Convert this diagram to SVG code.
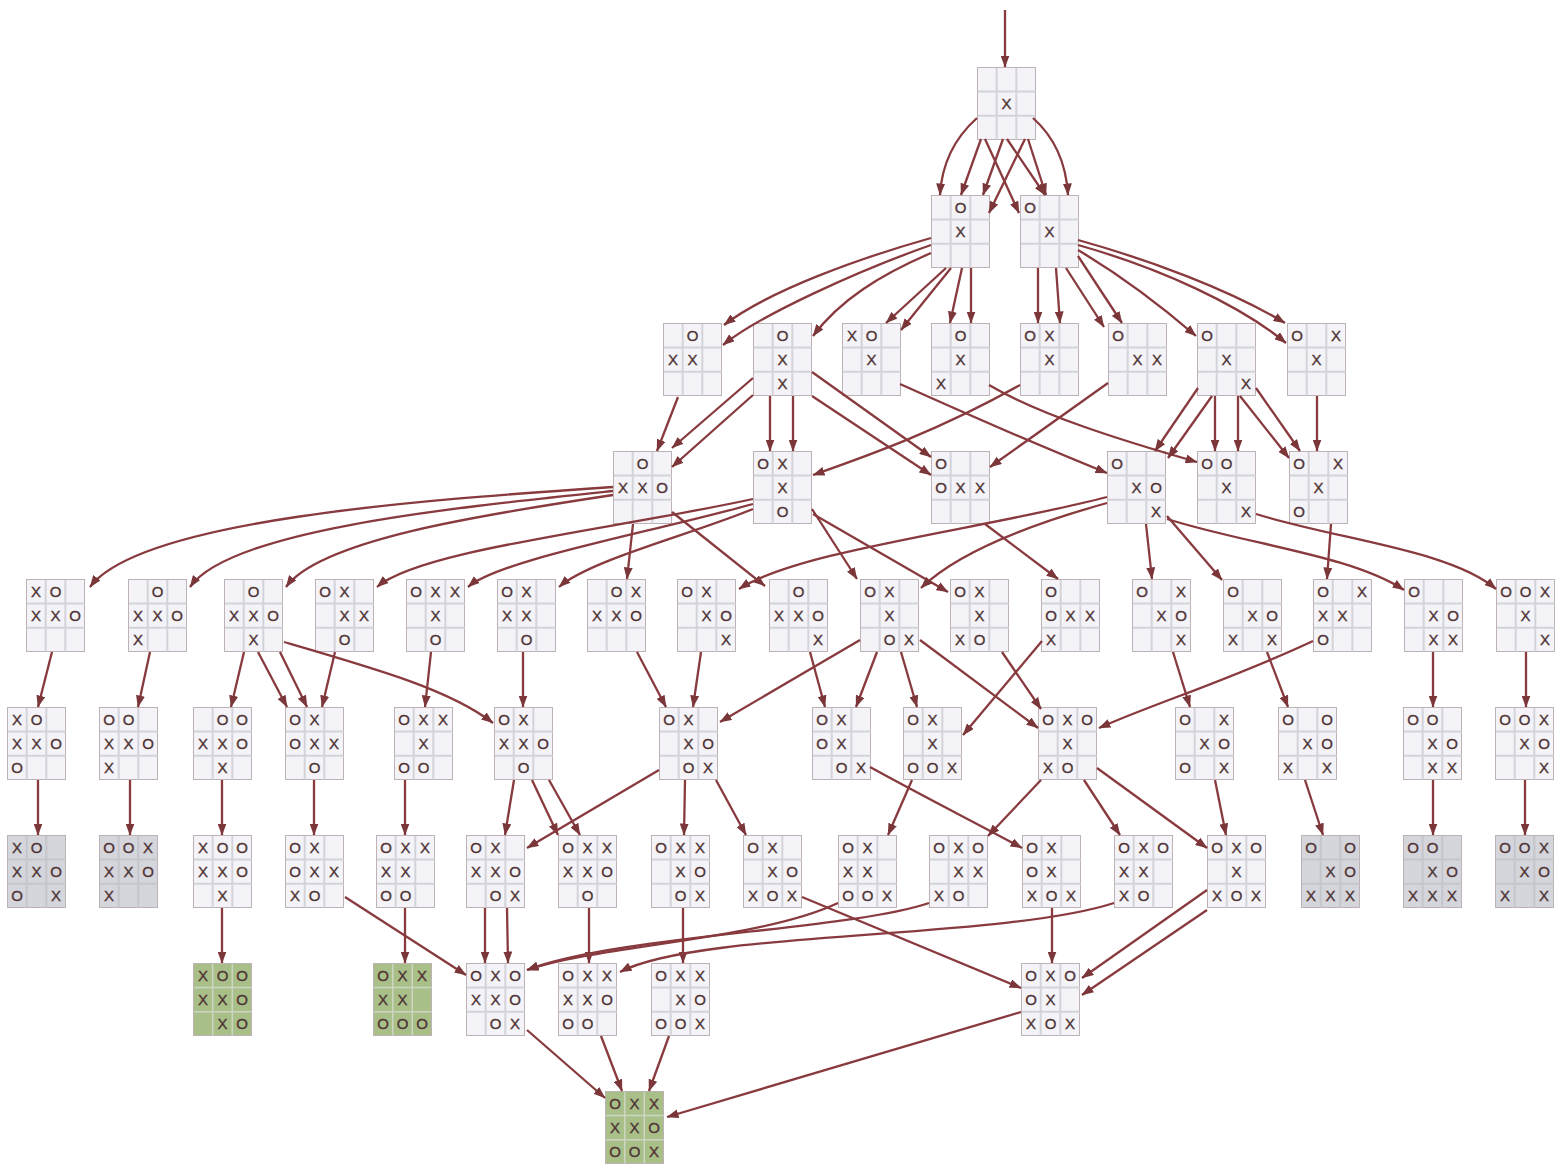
<svg xmlns="http://www.w3.org/2000/svg" xmlns:xlink="http://www.w3.org/1999/xlink" width="1563" height="1171" viewBox="0 0 1563 1171">
<style>
text{font-family:"Liberation Sans",Arial,sans-serif;font-size:15px;fill:#4f3335;stroke:#4f3335;stroke-width:0.35;text-anchor:middle;dominant-baseline:central}
.e path{fill:none;stroke:#883a3e;stroke-width:2.3;marker-end:url(#a)}
</style>
<defs>
<marker id="a" viewBox="0 0 12 9" refX="11.5" refY="4.5" markerWidth="12" markerHeight="9" markerUnits="userSpaceOnUse" orient="auto"><path d="M0,0L12,4.5L0,9z" fill="#7a3639"/></marker>
<g id="b"><rect x="0.5" y="0.5" width="58" height="72" fill="#f4f3f7" stroke="#bfb2b6"/><path d="M19.7,1V72.5M39.3,1V72.5M1,24.5H58.5M1,48.7H58.5" stroke="#d3d3da" stroke-width="2"/></g>
<g id="bg"><rect x="0.5" y="0.5" width="58" height="72" fill="#d4d6db" stroke="#bfb2b6"/><path d="M19.7,1V72.5M39.3,1V72.5M1,24.5H58.5M1,48.7H58.5" stroke="#c4c6cc" stroke-width="2"/></g>
<g id="bv"><rect x="0.5" y="0.5" width="58" height="72" fill="#a9bf88" stroke="#bfb2b6"/><path d="M19.7,1V72.5M39.3,1V72.5M1,24.5H58.5M1,48.7H58.5" stroke="#cdd6c2" stroke-width="1.5"/></g>
</defs>
<rect width="1563" height="1171" fill="#ffffff"/>
<g id="nodes">
<g id="n_root" transform="translate(977,67)"><use href="#b"/><text x="29.5" y="36.5">X</text></g>
<g id="n_L2" transform="translate(931,195)"><use href="#b"/><text x="29.5" y="12.5">O</text><text x="29.5" y="36.5">X</text></g>
<g id="n_R2" transform="translate(1020,195)"><use href="#b"/><text x="10" y="12.5">O</text><text x="29.5" y="36.5">X</text></g>

<g id="n_A" transform="translate(663,323)"><use href="#b"/><text x="29.5" y="12.5">O</text><text x="10" y="36.5">X</text><text x="29.5" y="36.5">X</text></g>
<g id="n_B" transform="translate(753,323)"><use href="#b"/><text x="29.5" y="12.5">O</text><text x="29.5" y="36.5">X</text><text x="29.5" y="60.5">X</text></g>
<g id="n_C" transform="translate(842,323)"><use href="#b"/><text x="10" y="12.5">X</text><text x="29.5" y="12.5">O</text><text x="29.5" y="36.5">X</text></g>
<g id="n_D" transform="translate(931,323)"><use href="#b"/><text x="29.5" y="12.5">O</text><text x="29.5" y="36.5">X</text><text x="10" y="60.5">X</text></g>
<g id="n_E" transform="translate(1020,323)"><use href="#b"/><text x="10" y="12.5">O</text><text x="29.5" y="12.5">X</text><text x="29.5" y="36.5">X</text></g>
<g id="n_F" transform="translate(1108,323)"><use href="#b"/><text x="10" y="12.5">O</text><text x="29.5" y="36.5">X</text><text x="49" y="36.5">X</text></g>
<g id="n_G" transform="translate(1197,323)"><use href="#b"/><text x="10" y="12.5">O</text><text x="29.5" y="36.5">X</text><text x="49" y="60.5">X</text></g>
<g id="n_H" transform="translate(1287,323)"><use href="#b"/><text x="10" y="12.5">O</text><text x="49" y="12.5">X</text><text x="29.5" y="36.5">X</text></g>

<g id="n_P" transform="translate(613,451)"><use href="#b"/><text x="29.5" y="12.5">O</text><text x="10" y="36.5">X</text><text x="29.5" y="36.5">X</text><text x="49" y="36.5">O</text></g>
<g id="n_Q" transform="translate(753,451)"><use href="#b"/><text x="10" y="12.5">O</text><text x="29.5" y="12.5">X</text><text x="29.5" y="36.5">X</text><text x="29.5" y="60.5">O</text></g>
<g id="n_R" transform="translate(931,451)"><use href="#b"/><text x="10" y="12.5">O</text><text x="10" y="36.5">O</text><text x="29.5" y="36.5">X</text><text x="49" y="36.5">X</text></g>
<g id="n_S" transform="translate(1107,451)"><use href="#b"/><text x="10" y="12.5">O</text><text x="29.5" y="36.5">X</text><text x="49" y="36.5">O</text><text x="49" y="60.5">X</text></g>
<g id="n_T" transform="translate(1197,451)"><use href="#b"/><text x="10" y="12.5">O</text><text x="29.5" y="12.5">O</text><text x="29.5" y="36.5">X</text><text x="49" y="60.5">X</text></g>
<g id="n_U" transform="translate(1289,451)"><use href="#b"/><text x="10" y="12.5">O</text><text x="49" y="12.5">X</text><text x="29.5" y="36.5">X</text><text x="10" y="60.5">O</text></g>

<g id="n5_1" transform="translate(26,579)"><use href="#b"/><text x="10" y="12.5">X</text><text x="29.5" y="12.5">O</text><text x="10" y="36.5">X</text><text x="29.5" y="36.5">X</text><text x="49" y="36.5">O</text></g>
<g id="n5_2" transform="translate(128,579)"><use href="#b"/><text x="29.5" y="12.5">O</text><text x="10" y="36.5">X</text><text x="29.5" y="36.5">X</text><text x="49" y="36.5">O</text><text x="10" y="60.5">X</text></g>
<g id="n5_3" transform="translate(224,579)"><use href="#b"/><text x="29.5" y="12.5">O</text><text x="10" y="36.5">X</text><text x="29.5" y="36.5">X</text><text x="49" y="36.5">O</text><text x="29.5" y="60.5">X</text></g>
<g id="n5_4" transform="translate(315,579)"><use href="#b"/><text x="10" y="12.5">O</text><text x="29.5" y="12.5">X</text><text x="29.5" y="36.5">X</text><text x="49" y="36.5">X</text><text x="29.5" y="60.5">O</text></g>
<g id="n5_5" transform="translate(406,579)"><use href="#b"/><text x="10" y="12.5">O</text><text x="29.5" y="12.5">X</text><text x="49" y="12.5">X</text><text x="29.5" y="36.5">X</text><text x="29.5" y="60.5">O</text></g>
<g id="n5_6" transform="translate(497,579)"><use href="#b"/><text x="10" y="12.5">O</text><text x="29.5" y="12.5">X</text><text x="10" y="36.5">X</text><text x="29.5" y="36.5">X</text><text x="29.5" y="60.5">O</text></g>
<g id="n5_7" transform="translate(587,579)"><use href="#b"/><text x="29.5" y="12.5">O</text><text x="49" y="12.5">X</text><text x="10" y="36.5">X</text><text x="29.5" y="36.5">X</text><text x="49" y="36.5">O</text></g>
<g id="n5_8" transform="translate(677,579)"><use href="#b"/><text x="10" y="12.5">O</text><text x="29.5" y="12.5">X</text><text x="29.5" y="36.5">X</text><text x="49" y="36.5">O</text><text x="49" y="60.5">X</text></g>
<g id="n5_9" transform="translate(769,579)"><use href="#b"/><text x="29.5" y="12.5">O</text><text x="10" y="36.5">X</text><text x="29.5" y="36.5">X</text><text x="49" y="36.5">O</text><text x="49" y="60.5">X</text></g>
<g id="n5_10" transform="translate(860,579)"><use href="#b"/><text x="10" y="12.5">O</text><text x="29.5" y="12.5">X</text><text x="29.5" y="36.5">X</text><text x="29.5" y="60.5">O</text><text x="49" y="60.5">X</text></g>
<g id="n5_11" transform="translate(950,579)"><use href="#b"/><text x="10" y="12.5">O</text><text x="29.5" y="12.5">X</text><text x="29.5" y="36.5">X</text><text x="10" y="60.5">X</text><text x="29.5" y="60.5">O</text></g>
<g id="n5_12" transform="translate(1041,579)"><use href="#b"/><text x="10" y="12.5">O</text><text x="10" y="36.5">O</text><text x="29.5" y="36.5">X</text><text x="49" y="36.5">X</text><text x="10" y="60.5">X</text></g>
<g id="n5_13" transform="translate(1132,579)"><use href="#b"/><text x="10" y="12.5">O</text><text x="49" y="12.5">X</text><text x="29.5" y="36.5">X</text><text x="49" y="36.5">O</text><text x="49" y="60.5">X</text></g>
<g id="n5_14" transform="translate(1223,579)"><use href="#b"/><text x="10" y="12.5">O</text><text x="29.5" y="36.5">X</text><text x="49" y="36.5">O</text><text x="10" y="60.5">X</text><text x="49" y="60.5">X</text></g>
<g id="n5_15" transform="translate(1313,579)"><use href="#b"/><text x="10" y="12.5">O</text><text x="49" y="12.5">X</text><text x="10" y="36.5">X</text><text x="29.5" y="36.5">X</text><text x="10" y="60.5">O</text></g>
<g id="n5_16" transform="translate(1404,579)"><use href="#b"/><text x="10" y="12.5">O</text><text x="29.5" y="36.5">X</text><text x="49" y="36.5">O</text><text x="29.5" y="60.5">X</text><text x="49" y="60.5">X</text></g>
<g id="n5_17" transform="translate(1496,579)"><use href="#b"/><text x="10" y="12.5">O</text><text x="29.5" y="12.5">O</text><text x="49" y="12.5">X</text><text x="29.5" y="36.5">X</text><text x="49" y="60.5">X</text></g>

<g id="n6_a" transform="translate(7,707)"><use href="#b"/><text x="10" y="12.5">X</text><text x="29.5" y="12.5">O</text><text x="10" y="36.5">X</text><text x="29.5" y="36.5">X</text><text x="49" y="36.5">O</text><text x="10" y="60.5">O</text></g>
<g id="n6_b" transform="translate(99,707)"><use href="#b"/><text x="10" y="12.5">O</text><text x="29.5" y="12.5">O</text><text x="10" y="36.5">X</text><text x="29.5" y="36.5">X</text><text x="49" y="36.5">O</text><text x="10" y="60.5">X</text></g>
<g id="n6_c" transform="translate(193,707)"><use href="#b"/><text x="29.5" y="12.5">O</text><text x="49" y="12.5">O</text><text x="10" y="36.5">X</text><text x="29.5" y="36.5">X</text><text x="49" y="36.5">O</text><text x="29.5" y="60.5">X</text></g>
<g id="n6_d" transform="translate(285,707)"><use href="#b"/><text x="10" y="12.5">O</text><text x="29.5" y="12.5">X</text><text x="10" y="36.5">O</text><text x="29.5" y="36.5">X</text><text x="49" y="36.5">X</text><text x="29.5" y="60.5">O</text></g>
<g id="n6_e" transform="translate(394,707)"><use href="#b"/><text x="10" y="12.5">O</text><text x="29.5" y="12.5">X</text><text x="49" y="12.5">X</text><text x="29.5" y="36.5">X</text><text x="10" y="60.5">O</text><text x="29.5" y="60.5">O</text></g>
<g id="n6_f" transform="translate(494,707)"><use href="#b"/><text x="10" y="12.5">O</text><text x="29.5" y="12.5">X</text><text x="10" y="36.5">X</text><text x="29.5" y="36.5">X</text><text x="49" y="36.5">O</text><text x="29.5" y="60.5">O</text></g>
<g id="n6_g" transform="translate(659,707)"><use href="#b"/><text x="10" y="12.5">O</text><text x="29.5" y="12.5">X</text><text x="29.5" y="36.5">X</text><text x="49" y="36.5">O</text><text x="29.5" y="60.5">O</text><text x="49" y="60.5">X</text></g>
<g id="n6_h" transform="translate(812,707)"><use href="#b"/><text x="10" y="12.5">O</text><text x="29.5" y="12.5">X</text><text x="10" y="36.5">O</text><text x="29.5" y="36.5">X</text><text x="29.5" y="60.5">O</text><text x="49" y="60.5">X</text></g>
<g id="n6_i" transform="translate(903,707)"><use href="#b"/><text x="10" y="12.5">O</text><text x="29.5" y="12.5">X</text><text x="29.5" y="36.5">X</text><text x="10" y="60.5">O</text><text x="29.5" y="60.5">O</text><text x="49" y="60.5">X</text></g>
<g id="n6_j" transform="translate(1038,707)"><use href="#b"/><text x="10" y="12.5">O</text><text x="29.5" y="12.5">X</text><text x="49" y="12.5">O</text><text x="29.5" y="36.5">X</text><text x="10" y="60.5">X</text><text x="29.5" y="60.5">O</text></g>
<g id="n6_k" transform="translate(1175,707)"><use href="#b"/><text x="10" y="12.5">O</text><text x="49" y="12.5">X</text><text x="29.5" y="36.5">X</text><text x="49" y="36.5">O</text><text x="10" y="60.5">O</text><text x="49" y="60.5">X</text></g>
<g id="n6_l" transform="translate(1278,707)"><use href="#b"/><text x="10" y="12.5">O</text><text x="49" y="12.5">O</text><text x="29.5" y="36.5">X</text><text x="49" y="36.5">O</text><text x="10" y="60.5">X</text><text x="49" y="60.5">X</text></g>
<g id="n6_m" transform="translate(1403,707)"><use href="#b"/><text x="10" y="12.5">O</text><text x="29.5" y="12.5">O</text><text x="29.5" y="36.5">X</text><text x="49" y="36.5">O</text><text x="29.5" y="60.5">X</text><text x="49" y="60.5">X</text></g>
<g id="n6_n" transform="translate(1495,707)"><use href="#b"/><text x="10" y="12.5">O</text><text x="29.5" y="12.5">O</text><text x="49" y="12.5">X</text><text x="29.5" y="36.5">X</text><text x="49" y="36.5">O</text><text x="49" y="60.5">X</text></g>

<g id="n7_1" transform="translate(7,835)"><use href="#bg"/><text x="10" y="12.5">X</text><text x="29.5" y="12.5">O</text><text x="10" y="36.5">X</text><text x="29.5" y="36.5">X</text><text x="49" y="36.5">O</text><text x="10" y="60.5">O</text><text x="49" y="60.5">X</text></g>
<g id="n7_2" transform="translate(99,835)"><use href="#bg"/><text x="10" y="12.5">O</text><text x="29.5" y="12.5">O</text><text x="49" y="12.5">X</text><text x="10" y="36.5">X</text><text x="29.5" y="36.5">X</text><text x="49" y="36.5">O</text><text x="10" y="60.5">X</text></g>
<g id="n7_3" transform="translate(193,835)"><use href="#b"/><text x="10" y="12.5">X</text><text x="29.5" y="12.5">O</text><text x="49" y="12.5">O</text><text x="10" y="36.5">X</text><text x="29.5" y="36.5">X</text><text x="49" y="36.5">O</text><text x="29.5" y="60.5">X</text></g>
<g id="n7_4" transform="translate(285,835)"><use href="#b"/><text x="10" y="12.5">O</text><text x="29.5" y="12.5">X</text><text x="10" y="36.5">O</text><text x="29.5" y="36.5">X</text><text x="49" y="36.5">X</text><text x="10" y="60.5">X</text><text x="29.5" y="60.5">O</text></g>
<g id="n7_5" transform="translate(376,835)"><use href="#b"/><text x="10" y="12.5">O</text><text x="29.5" y="12.5">X</text><text x="49" y="12.5">X</text><text x="10" y="36.5">X</text><text x="29.5" y="36.5">X</text><text x="10" y="60.5">O</text><text x="29.5" y="60.5">O</text></g>
<g id="n7_6" transform="translate(466,835)"><use href="#b"/><text x="10" y="12.5">O</text><text x="29.5" y="12.5">X</text><text x="10" y="36.5">X</text><text x="29.5" y="36.5">X</text><text x="49" y="36.5">O</text><text x="29.5" y="60.5">O</text><text x="49" y="60.5">X</text></g>
<g id="n7_7" transform="translate(558,835)"><use href="#b"/><text x="10" y="12.5">O</text><text x="29.5" y="12.5">X</text><text x="49" y="12.5">X</text><text x="10" y="36.5">X</text><text x="29.5" y="36.5">X</text><text x="49" y="36.5">O</text><text x="29.5" y="60.5">O</text></g>
<g id="n7_8" transform="translate(651,835)"><use href="#b"/><text x="10" y="12.5">O</text><text x="29.5" y="12.5">X</text><text x="49" y="12.5">X</text><text x="29.5" y="36.5">X</text><text x="49" y="36.5">O</text><text x="29.5" y="60.5">O</text><text x="49" y="60.5">X</text></g>
<g id="n7_9" transform="translate(743,835)"><use href="#b"/><text x="10" y="12.5">O</text><text x="29.5" y="12.5">X</text><text x="29.5" y="36.5">X</text><text x="49" y="36.5">O</text><text x="10" y="60.5">X</text><text x="29.5" y="60.5">O</text><text x="49" y="60.5">X</text></g>
<g id="n7_10" transform="translate(838,835)"><use href="#b"/><text x="10" y="12.5">O</text><text x="29.5" y="12.5">X</text><text x="10" y="36.5">X</text><text x="29.5" y="36.5">X</text><text x="10" y="60.5">O</text><text x="29.5" y="60.5">O</text><text x="49" y="60.5">X</text></g>
<g id="n7_11" transform="translate(929,835)"><use href="#b"/><text x="10" y="12.5">O</text><text x="29.5" y="12.5">X</text><text x="49" y="12.5">O</text><text x="29.5" y="36.5">X</text><text x="49" y="36.5">X</text><text x="10" y="60.5">X</text><text x="29.5" y="60.5">O</text></g>
<g id="n7_12" transform="translate(1022,835)"><use href="#b"/><text x="10" y="12.5">O</text><text x="29.5" y="12.5">X</text><text x="10" y="36.5">O</text><text x="29.5" y="36.5">X</text><text x="10" y="60.5">X</text><text x="29.5" y="60.5">O</text><text x="49" y="60.5">X</text></g>
<g id="n7_13" transform="translate(1114,835)"><use href="#b"/><text x="10" y="12.5">O</text><text x="29.5" y="12.5">X</text><text x="49" y="12.5">O</text><text x="10" y="36.5">X</text><text x="29.5" y="36.5">X</text><text x="10" y="60.5">X</text><text x="29.5" y="60.5">O</text></g>
<g id="n7_14" transform="translate(1207,835)"><use href="#b"/><text x="10" y="12.5">O</text><text x="29.5" y="12.5">X</text><text x="49" y="12.5">O</text><text x="29.5" y="36.5">X</text><text x="10" y="60.5">X</text><text x="29.5" y="60.5">O</text><text x="49" y="60.5">X</text></g>
<g id="n7_15" transform="translate(1301,835)"><use href="#bg"/><text x="10" y="12.5">O</text><text x="49" y="12.5">O</text><text x="29.5" y="36.5">X</text><text x="49" y="36.5">O</text><text x="10" y="60.5">X</text><text x="29.5" y="60.5">X</text><text x="49" y="60.5">X</text></g>
<g id="n7_16" transform="translate(1403,835)"><use href="#bg"/><text x="10" y="12.5">O</text><text x="29.5" y="12.5">O</text><text x="29.5" y="36.5">X</text><text x="49" y="36.5">O</text><text x="10" y="60.5">X</text><text x="29.5" y="60.5">X</text><text x="49" y="60.5">X</text></g>
<g id="n7_17" transform="translate(1495,835)"><use href="#bg"/><text x="10" y="12.5">O</text><text x="29.5" y="12.5">O</text><text x="49" y="12.5">X</text><text x="29.5" y="36.5">X</text><text x="49" y="36.5">O</text><text x="10" y="60.5">X</text><text x="49" y="60.5">X</text></g>

<g id="n8_1" transform="translate(193,963)"><use href="#bv"/><text x="10" y="12.5">X</text><text x="29.5" y="12.5">O</text><text x="49" y="12.5">O</text><text x="10" y="36.5">X</text><text x="29.5" y="36.5">X</text><text x="49" y="36.5">O</text><text x="29.5" y="60.5">X</text><text x="49" y="60.5">O</text></g>
<g id="n8_2" transform="translate(373,963)"><use href="#bv"/><text x="10" y="12.5">O</text><text x="29.5" y="12.5">X</text><text x="49" y="12.5">X</text><text x="10" y="36.5">X</text><text x="29.5" y="36.5">X</text><text x="10" y="60.5">O</text><text x="29.5" y="60.5">O</text><text x="49" y="60.5">O</text></g>
<g id="n8_3" transform="translate(466,963)"><use href="#b"/><text x="10" y="12.5">O</text><text x="29.5" y="12.5">X</text><text x="49" y="12.5">O</text><text x="10" y="36.5">X</text><text x="29.5" y="36.5">X</text><text x="49" y="36.5">O</text><text x="29.5" y="60.5">O</text><text x="49" y="60.5">X</text></g>
<g id="n8_4" transform="translate(558,963)"><use href="#b"/><text x="10" y="12.5">O</text><text x="29.5" y="12.5">X</text><text x="49" y="12.5">X</text><text x="10" y="36.5">X</text><text x="29.5" y="36.5">X</text><text x="49" y="36.5">O</text><text x="10" y="60.5">O</text><text x="29.5" y="60.5">O</text></g>
<g id="n8_5" transform="translate(651,963)"><use href="#b"/><text x="10" y="12.5">O</text><text x="29.5" y="12.5">X</text><text x="49" y="12.5">X</text><text x="29.5" y="36.5">X</text><text x="49" y="36.5">O</text><text x="10" y="60.5">O</text><text x="29.5" y="60.5">O</text><text x="49" y="60.5">X</text></g>
<g id="n8_6" transform="translate(1021,963)"><use href="#b"/><text x="10" y="12.5">O</text><text x="29.5" y="12.5">X</text><text x="49" y="12.5">O</text><text x="10" y="36.5">O</text><text x="29.5" y="36.5">X</text><text x="10" y="60.5">X</text><text x="29.5" y="60.5">O</text><text x="49" y="60.5">X</text></g>

<g id="n9_1" transform="translate(605,1091)"><use href="#bv"/><text x="10" y="12.5">O</text><text x="29.5" y="12.5">X</text><text x="49" y="12.5">X</text><text x="10" y="36.5">X</text><text x="29.5" y="36.5">X</text><text x="49" y="36.5">O</text><text x="10" y="60.5">O</text><text x="29.5" y="60.5">O</text><text x="49" y="60.5">X</text></g>
</g>
<g id="connectors" class="e">
<path d="M1005,10L1005,67"/>
<path d="M977,118C958,135 942,160 940,195"/>
<path d="M981,139L961,195"/>
<path d="M985,139L1019,213"/>
<path d="M1003,139L983,195"/>
<path d="M1007,139L1045,195"/>
<path d="M1025,139L989,213"/>
<path d="M1028,139L1046,195"/>
<path d="M1033,118C1052,135 1066,160 1068,195"/>
<path d="M931,238C860,258 770,290 724,325"/>
<path d="M931,245C860,270 760,315 723,345"/>
<path d="M931,253C880,275 840,300 813,336"/>
<path d="M946,268L886,323"/>
<path d="M951,268L901,330"/>
<path d="M962,268L950,323"/>
<path d="M971,268L971,323"/>
<path d="M1038,268L1038,323"/>
<path d="M1056,268L1060,323"/>
<path d="M1066,268L1104,327"/>
<path d="M1078,256L1122,323"/>
<path d="M1078,250C1120,275 1160,305 1196,336"/>
<path d="M1078,240C1150,260 1230,290 1285,323"/>
<path d="M1078,245C1160,268 1240,305 1286,343"/>
<path d="M678,397L657,451"/>
<path d="M753,378L672,448"/>
<path d="M753,395L672,467"/>
<path d="M770,396L770,451"/>
<path d="M793,396L793,451"/>
<path d="M812,372L931,457"/>
<path d="M812,396L931,475"/>
<path d="M900,384C980,420 1050,450 1107,473"/>
<path d="M989,385C1040,415 1120,440 1197,462"/>
<path d="M1020,385C940,430 870,455 813,475"/>
<path d="M1108,383L990,467"/>
<path d="M1198,388L1155,451"/>
<path d="M1212,396L1168,458"/>
<path d="M1215,396L1215,451"/>
<path d="M1238,396L1238,451"/>
<path d="M1240,396L1289,458"/>
<path d="M1256,388L1300,451"/>
<path d="M1317,396L1317,451"/>
<path d="M613,487C420,500 140,520 90,587"/>
<path d="M613,491C450,508 230,530 190,587"/>
<path d="M613,495C480,515 320,540 286,587"/>
<path d="M753,499C610,530 420,550 377,587"/>
<path d="M753,504C640,535 500,560 468,587"/>
<path d="M753,509C690,535 590,560 559,587"/>
<path d="M633,524L627,579"/>
<path d="M672,512L765,586"/>
<path d="M812,509L857,579"/>
<path d="M813,514L948,592"/>
<path d="M985,524L1058,579"/>
<path d="M1107,497C980,530 800,550 739,589"/>
<path d="M1107,503C1010,530 950,560 921,588"/>
<path d="M1146,524L1152,579"/>
<path d="M1167,516L1222,580"/>
<path d="M1167,519C1250,545 1350,555 1404,590"/>
<path d="M1256,514C1340,540 1450,550 1496,589"/>
<path d="M1331,524L1327,579"/>
<path d="M52,652L38,707"/>
<path d="M150,652L138,707"/>
<path d="M244,652L231,707"/>
<path d="M258,652L287,707"/>
<path d="M280,652L307,707"/>
<path d="M284,642C380,670 450,690 493,723"/>
<path d="M335,652L322,707"/>
<path d="M431,652L425,707"/>
<path d="M523,652L523,707"/>
<path d="M637,652L666,707"/>
<path d="M701,652L693,707"/>
<path d="M810,652L825,707"/>
<path d="M877,652L856,707"/>
<path d="M901,652L917,707"/>
<path d="M860,640L720,722"/>
<path d="M920,640L1038,728"/>
<path d="M1002,652L1041,709"/>
<path d="M1042,641L963,735"/>
<path d="M1173,652L1190,707"/>
<path d="M1267,652L1288,707"/>
<path d="M1313,641C1230,680 1150,705 1099,728"/>
<path d="M1433,652L1433,707"/>
<path d="M1526,652L1526,707"/>
<path d="M38,780L38,835"/>
<path d="M130,780L130,835"/>
<path d="M222,780L222,835"/>
<path d="M314,780L314,835"/>
<path d="M405,780L405,835"/>
<path d="M514,780L505,835"/>
<path d="M532,780L558,835"/>
<path d="M549,780L580,835"/>
<path d="M659,770L527,848"/>
<path d="M685,780L684,835"/>
<path d="M716,780L746,835"/>
<path d="M870,767C930,800 980,825 1022,848"/>
<path d="M912,780L888,835"/>
<path d="M1041,780L988,836"/>
<path d="M1084,780L1120,835"/>
<path d="M1097,768L1207,848"/>
<path d="M1215,780L1226,835"/>
<path d="M1305,780L1323,835"/>
<path d="M1433,780L1433,835"/>
<path d="M1525,780L1525,835"/>
<path d="M222,908L222,963"/>
<path d="M405,908L405,963"/>
<path d="M345,897L466,975"/>
<path d="M485,908L485,963"/>
<path d="M507,908L508,963"/>
<path d="M589,908L589,963"/>
<path d="M683,908L683,963"/>
<path d="M802,897L1021,988"/>
<path d="M838,903C760,940 600,945 527,970"/>
<path d="M929,903C850,930 620,935 527,970"/>
<path d="M1114,903C1000,940 700,930 620,972"/>
<path d="M1052,908L1052,963"/>
<path d="M1207,890L1082,978"/>
<path d="M1207,910L1082,995"/>
<path d="M527,1030L605,1098"/>
<path d="M601,1036L622,1091"/>
<path d="M669,1036L649,1091"/>
<path d="M1021,1012L667,1117"/>
</g>
</svg>
